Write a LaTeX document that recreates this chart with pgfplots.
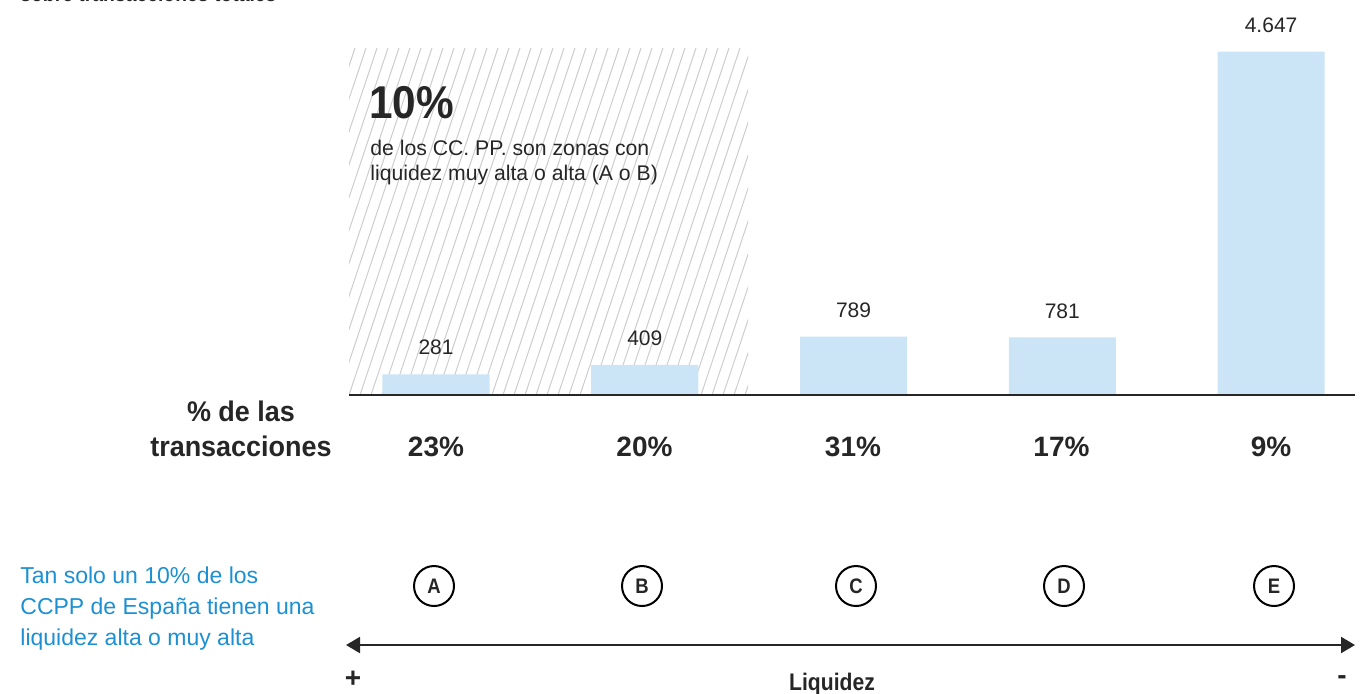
\documentclass[border=0pt]{standalone}
\usepackage{fontspec}
\setmainfont{Liberation Sans}
\newfontfamily\cond[FakeStretch=0.88]{Liberation Sans}
\newfontfamily\semicond[FakeStretch=0.95]{Liberation Sans}
\newfontfamily\bigfont[FakeStretch=0.92]{Liberation Sans}
\usepackage{pgfplots}
\pgfplotsset{compat=1.18}
\usetikzlibrary{arrows.meta}
\definecolor{barblue}{RGB}{204,229,246}
\definecolor{txtblue}{RGB}{28,144,210}
\definecolor{txtdark}{RGB}{38,38,38}
\definecolor{hatchc}{RGB}{205,205,205}
\begin{document}
\begin{tikzpicture}
\useasboundingbox (0,0) rectangle (681.5pt,-346.5pt);
\begin{scope}[x=0.5pt,y=-0.5pt]
  \begin{scope}
    \clip (349,48) rectangle (748,395);
    \foreach \i in {-12,...,37} {
      \draw[hatchc,line width=0.5pt] ({349+\i*11},395) -- ++(116,-347);
    }
  \end{scope}
\end{scope}
\begin{axis}[
  at={(174.5pt,-197.5pt)}, anchor=south west,
  scale only axis, width=503pt, height=184.5pt,
  xmin=-0.4168, xmax=4.402, ymin=0, ymax=4995,
  hide axis, clip=false,
  ybar, bar width=0.513,
  nodes near coords,
  every node near coord/.append style={font=\fontsize{10.5}{12}\selectfont, text=txtdark, yshift=6pt},
  /pgf/number format/.cd, 1000 sep={.}, assume math mode=true]
\addplot[fill=barblue, draw=none] coordinates {(0,281) (1,409) (2,789) (3,781) (4,4647)};
\draw[line width=1pt, txtdark] (axis cs:-0.4168,0) -- (axis cs:4.402,0);
\end{axis}
\begin{scope}[x=0.5pt,y=-0.5pt]
  \node[anchor=base west, inner sep=0, text=txtdark, font=\bigfont\bfseries\fontsize{23}{23}\selectfont] at (369,118) {10\%};
  \node[anchor=base west, inner sep=0, text=txtdark, font=\fontsize{10.6}{12}\selectfont] at (370,155) {de los CC. PP. son zonas con};
  \node[anchor=base west, inner sep=0, text=txtdark, font=\fontsize{10.6}{12}\selectfont] at (370,180) {liquidez muy alta o alta (A o B)};
  \node[anchor=base, inner sep=0, text=txtdark, font=\semicond\bfseries\fontsize{14.2}{14}\selectfont] at (241,421) {\% de las};
  \node[anchor=base, inner sep=0, text=txtdark, font=\semicond\bfseries\fontsize{14.2}{14}\selectfont] at (241,456) {transacciones};
  \foreach \x/\p in {436/23,644.5/20,853/31,1061.5/17,1271/9} {
    \node[anchor=base, inner sep=0, text=txtdark, font=\bfseries\fontsize{14}{14}\selectfont] at (\x,456) {\p\%};
  }
  \foreach \x/\l in {434/A,642/B,856/C,1064/D,1274/E} {
    \node[draw=black, circle, line width=1pt, minimum size=20pt, inner sep=0, text=txtdark, font=\cond\bfseries\fontsize{10.5}{10}\selectfont] at (\x,586) {\l};
  }
  \node[anchor=base west, inner sep=0, text=txtblue, font=\fontsize{11.5}{12}\selectfont] at (20,583) {Tan solo un 10\% de los};
  \node[anchor=base west, inner sep=0, text=txtblue, font=\fontsize{11.5}{12}\selectfont] at (20,614) {CCPP de España tienen una};
  \node[anchor=base west, inner sep=0, text=txtblue, font=\fontsize{11.5}{12}\selectfont] at (20,645) {liquidez alta o muy alta};
  \draw[line width=1pt, txtdark, {Triangle[length=7pt,width=8pt]}-{Triangle[length=7pt,width=8pt]}] (346,645) -- (1355,645);
  \node[inner sep=0, text=txtdark, font=\bfseries\fontsize{14}{14}\selectfont] at (353,679) {+};
  \node[inner sep=0, text=txtdark, font=\bfseries\fontsize{14}{14}\selectfont] at (1342,680) {-};
  \node[anchor=base, inner sep=0, text=txtdark, font=\cond\bfseries\fontsize{12}{12}\selectfont] at (832,690) {Liquidez};
  \node[anchor=base west, inner sep=0, text=txtdark, font=\cond\bfseries\fontsize{11}{11}\selectfont] at (20,1.5) {sobre transacciones totales};
\end{scope}
\end{tikzpicture}
\end{document}
